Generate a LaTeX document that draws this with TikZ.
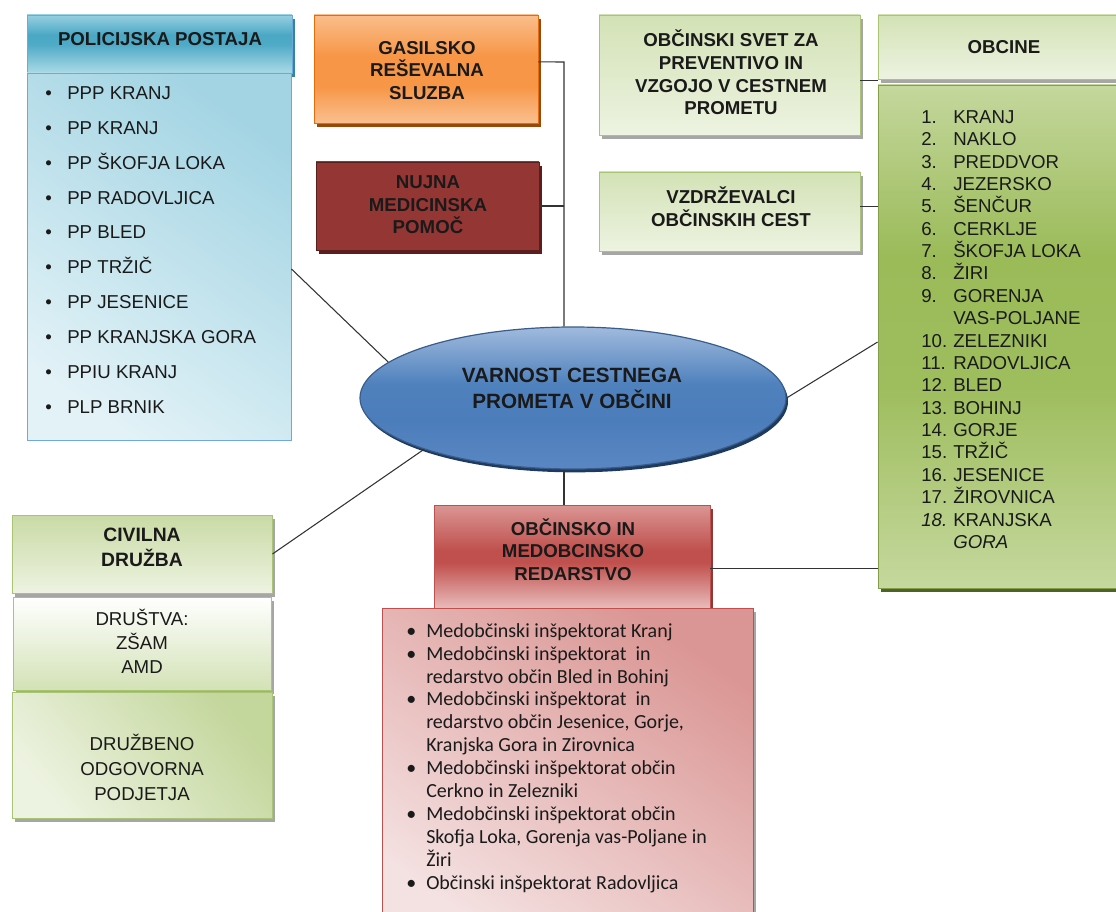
\documentclass[tikz,border=0pt]{standalone}
\usepackage{fontspec}
\setmainfont{Liberation Sans}
\newfontfamily\calfont{Carlito}
\usetikzlibrary{shapes.geometric,shadows,calc}

% palette
\definecolor{txt}{HTML}{1A1A1A}
\definecolor{lnc}{HTML}{333333}
\definecolor{tealB}{HTML}{6FA8DC}
\definecolor{tealS}{HTML}{31859C}
\definecolor{iceL}{HTML}{E2F2F7}
\definecolor{iceD}{HTML}{A3D4E3}
\definecolor{orgB}{HTML}{E46C0A}
\definecolor{orgS}{HTML}{984807}
\definecolor{wineD}{HTML}{943634}
\definecolor{wineM}{HTML}{B84A47}
\definecolor{wineS}{HTML}{5A1E1D}
\definecolor{sageT}{HTML}{D3E2B6}
\definecolor{sageB}{HTML}{EDF3E1}
\definecolor{sageE}{HTML}{A9C474}
\definecolor{greyS}{HTML}{A6A6A6}
\definecolor{oliveM}{HTML}{9BBB59}
\definecolor{oliveL}{HTML}{C3D69B}
\definecolor{oliveS}{HTML}{4F6228}
\definecolor{bluE}{HTML}{385D8A}
\definecolor{bluS}{HTML}{1F3A5F}
\definecolor{roseM}{HTML}{C0504D}
\definecolor{roseS}{HTML}{8B3A38}
\definecolor{pinkL}{HTML}{F4E1E1}
\definecolor{pinkD}{HTML}{DA9694}

% vertical shadings: 25bp = bottom edge, 75bp = top edge
\pgfdeclareverticalshading{tealshade}{100bp}{%
  color(0bp)=(rgb,255:red,170;green,218;blue,231);
  color(25bp)=(rgb,255:red,170;green,218;blue,231);
  color(50bp)=(rgb,255:red,78;green,170;blue,198);
  color(58bp)=(rgb,255:red,75;green,168;blue,197);
  color(75bp)=(rgb,255:red,150;green,208;blue,224);
  color(100bp)=(rgb,255:red,150;green,208;blue,224)}
\pgfdeclareverticalshading{orgshade}{100bp}{%
  color(0bp)=(rgb,255:red,250;green,192;blue,144);
  color(25bp)=(rgb,255:red,250;green,192;blue,144);
  color(42bp)=(rgb,255:red,247;green,150;blue,70);
  color(56bp)=(rgb,255:red,247;green,150;blue,70);
  color(75bp)=(rgb,255:red,250;green,190;blue,140);
  color(100bp)=(rgb,255:red,250;green,190;blue,140)}
\pgfdeclareverticalshading{roseshade}{100bp}{%
  color(0bp)=(rgb,255:red,232;green,188;blue,187);
  color(25bp)=(rgb,255:red,232;green,188;blue,187);
  color(47bp)=(rgb,255:red,192;green,80;blue,77);
  color(53bp)=(rgb,255:red,192;green,80;blue,77);
  color(75bp)=(rgb,255:red,218;green,150;blue,148);
  color(100bp)=(rgb,255:red,218;green,150;blue,148)}
\pgfdeclareverticalshading{oliveshade}{100bp}{%
  color(0bp)=(rgb,255:red,197;green,216;blue,158);
  color(25bp)=(rgb,255:red,197;green,216;blue,158);
  color(45bp)=(rgb,255:red,158;green,189;blue,93);
  color(58bp)=(rgb,255:red,155;green,187;blue,89);
  color(75bp)=(rgb,255:red,196;green,215;blue,157);
  color(100bp)=(rgb,255:red,196;green,215;blue,157)}
\pgfdeclareverticalshading{blushade}{100bp}{%
  color(0bp)=(rgb,255:red,90;green,135;blue,195);
  color(25bp)=(rgb,255:red,90;green,135;blue,195);
  color(42bp)=(rgb,255:red,76;green,125;blue,187);
  color(55bp)=(rgb,255:red,79;green,129;blue,189);
  color(75bp)=(rgb,255:red,160;green,186;blue,221);
  color(100bp)=(rgb,255:red,160;green,186;blue,221)}

\newcommand\hdfont{\fontsize{14}{17}\selectfont\bfseries}
\newcommand\rgfont{\fontsize{14}{18}\selectfont}

\begin{document}
\begin{tikzpicture}[x=0.75pt,y=-0.75pt,
  bx/.style={draw, rectangle, inner sep=0pt, line width=0.7pt},
  sz/.style 2 args={minimum width={#1*0.75pt}, minimum height={#2*0.75pt}},
  dsh/.style={drop shadow={shadow xshift=2pt, shadow yshift=-3pt, opacity=1, fill=#1}},
  hd/.style={font=\hdfont, align=center, text=txt, inner sep=0pt},
  rg/.style={font=\rgfont, align=center, text=txt, inner sep=0pt},
  lst/.style={align=left, text=txt, inner sep=0pt, anchor=west},
  conn/.style={draw=lnc, line width=0.8pt}]
\useasboundingbox (0,0) rectangle (1116,912);

% ---------- boxes ----------
\node[bx, sz={265}{58}, draw=tealB, dsh=tealS, shade, shading=tealshade] (pph) at (159.5,44) {};
\node[bx, sz={264}{367}, draw=tealB,
      top color=iceD, bottom color=iceL, shading angle=-35] (ppl) at (159,256.5) {};

\node[bx, sz={224}{108}, draw=orgB, dsh=orgS, shade, shading=orgshade] (gas) at (426,69) {};
\node[bx, sz={223}{88}, draw=wineS, dsh=wineS,
      left color=wineD, middle color=wineM, right color=wineD] (nuj) at (427.5,206) {};

\node[bx, sz={261}{120}, draw=sageE, dsh=greyS,
      top color=sageT, bottom color=sageB] (svet) at (729.5,75) {};
\node[bx, sz={261}{79}, draw=sageE, dsh=greyS,
      top color=sageT, bottom color=sageB] (vzd) at (729.5,211.5) {};

\node[bx, sz={252}{64}, draw=sageE, dsh=greyS,
      top color=sageT, bottom color=sageB] (obh) at (1004,47) {};
\node[bx, sz={252}{503}, draw=oliveM!85!black, dsh=oliveS, shade, shading=oliveshade] (obl) at (1004,336.5) {};

\node[ellipse, draw=bluE, line width=0.9pt, inner sep=0pt, sz={426}{142},
      drop shadow={shadow xshift=1.5pt, shadow yshift=-2.5pt, opacity=1, fill=bluS},
      shade, shading=blushade] (ell) at (573,398) {};

\node[bx, sz={260}{78}, draw=sageE, dsh=greyS,
      top color=oliveL!90!white, bottom color=sageB] (civ) at (142,554) {};
\node[bx, sz={258}{93}, draw=sageE, dsh=greyS,
      top color=white, bottom color=sageT] (dru) at (142,643.5) {};
\node[bx, sz={260}{126}, draw=sageE, dsh=greyS,
      top color=oliveL, bottom color=sageB, shading angle=-50] (dzb) at (142,755) {};

\node[bx, sz={276}{103}, draw=roseM, dsh=roseS, shade, shading=roseshade] (redh) at (572,556.5) {};
\node[bx, sz={371}{332}, draw=roseM, dsh=greyS,
      top color=pinkD, bottom color=pinkL, shading angle=-35] (redl) at (567.5,774) {};

% ---------- connectors ----------
\coordinate (trunk) at (564,62);
\draw[conn] ($(gas.north east)!0.435!(gas.south east)$) -- (trunk) -- (trunk |- ell.north);
\draw[conn] (nuj.east) -- (nuj.east -| trunk);
\draw[conn] (ell.south -| trunk) -- (redh.north -| trunk);
\draw[conn] ($(ppl.north east)!0.534!(ppl.south east)$) -- (ell.169.6);
\draw[conn] (civ.east) -- (ell.199.7);
\draw[conn] (ell.east) -- ($(obl.north west)!0.511!(obl.south west)$);
\draw[conn] ($(svet.north east)!0.542!(svet.south east)$) coordinate (sv) -- (sv -| obh.west);
\draw[conn] ($(vzd.north east)!0.443!(vzd.south east)$) coordinate (vz) -- (vz -| obl.west);
\draw[conn] ($(redh.north east)!0.612!(redh.south east)$) coordinate (rd) -- (rd -| obl.west);

% ---------- headings ----------
\node[hd] (pphT) at (160,39) {POLICIJSKA POSTAJA};
\node[hd] (gasT) at (427,70.5) {GASILSKO\\REŠEVALNA\\SLUZBA};
\node[hd] (nujT) at (428,205) {NUJNA\\MEDICINSKA\\POMOČ};
\node[hd] (svetT) at (731,72.5) {OBČINSKI SVET ZA\\PREVENTIVO IN\\VZGOJO V CESTNEM\\PROMETU};
\node[hd] (vzdT) at (731,206.5) {VZDRŽEVALCI\\OBČINSKIH CEST};
\node[hd] (obhT) at (1004,47) {OBCINE};
\node[hd, font={\fontsize{15.5}{19.5}\selectfont\bfseries}] (ellT) at (572,388.5)
      {VARNOST CESTNEGA\\PROMETA V OBČINI};
\node[hd, font={\fontsize{14.5}{18.75}\selectfont\bfseries}] (civT) at (142,547.5) {CIVILNA\\DRUŽBA};
\node[rg] (druT) at (142,641) {DRUŠTVA:\\ZŠAM\\AMD};
\node[rg, font={\fontsize{14}{18.75}\selectfont}] (dzbT) at (142,767) {DRUŽBENO\\ODGOVORNA\\PODJETJA};
\node[hd] (redT) at (573,549.5) {OBČINSKO IN\\MEDOBCINSKO\\REDARSTVO};

% ---------- lists ----------
\node[lst, font={\fontsize{14}{26.2}\selectfont}] (pplT) at (45,250) {%
\makebox[16.5pt][l]{•}PPP KRANJ\\
\makebox[16.5pt][l]{•}PP KRANJ\\
\makebox[16.5pt][l]{•}PP ŠKOFJA LOKA\\
\makebox[16.5pt][l]{•}PP RADOVLJICA\\
\makebox[16.5pt][l]{•}PP BLED\\
\makebox[16.5pt][l]{•}PP TRŽIČ\\
\makebox[16.5pt][l]{•}PP JESENICE\\
\makebox[16.5pt][l]{•}PP KRANJSKA GORA\\
\makebox[16.5pt][l]{•}PPIU KRANJ\\
\makebox[16.5pt][l]{•}PLP BRNIK};

\node[lst, font={\fontsize{14}{16.78}\selectfont}] (oblT) at (921,329.5) {%
\makebox[24pt][l]{1.}KRANJ\\
\makebox[24pt][l]{2.}NAKLO\\
\makebox[24pt][l]{3.}PREDDVOR\\
\makebox[24pt][l]{4.}JEZERSKO\\
\makebox[24pt][l]{5.}ŠENČUR\\
\makebox[24pt][l]{6.}CERKLJE\\
\makebox[24pt][l]{7.}ŠKOFJA LOKA\\
\makebox[24pt][l]{8.}ŽIRI\\
\makebox[24pt][l]{9.}GORENJA\\
\makebox[24pt][l]{}VAS-POLJANE\\
\makebox[24pt][l]{10.}ZELEZNIKI\\
\makebox[24pt][l]{11.}RADOVLJICA\\
\makebox[24pt][l]{12.}BLED\\
\makebox[24pt][l]{13.}BOHINJ\\
\makebox[24pt][l]{14.}GORJE\\
\makebox[24pt][l]{15.}TRŽIČ\\
\makebox[24pt][l]{16.}JESENICE\\
\makebox[24pt][l]{17.}ŽIROVNICA\\
\makebox[24pt][l]{\textit{18.}}KRANJSKA\\
\makebox[24pt][l]{}\textit{GORA}};

\node[lst, font={\calfont\fontsize{15}{17.18}\selectfont}] (redT2) at (406,758) {%
\makebox[15pt][l]{•}Medobčinski inšpektorat Kranj\\
\makebox[15pt][l]{•}Medobčinski inšpektorat\ \ in\\
\makebox[15pt][l]{}redarstvo občin Bled in Bohinj\\
\makebox[15pt][l]{•}Medobčinski inšpektorat\ \ in\\
\makebox[15pt][l]{}redarstvo občin Jesenice, Gorje,\\
\makebox[15pt][l]{}Kranjska Gora in Zirovnica\\
\makebox[15pt][l]{•}Medobčinski inšpektorat občin\\
\makebox[15pt][l]{}Cerkno in Zelezniki\\
\makebox[15pt][l]{•}Medobčinski inšpektorat občin\\
\makebox[15pt][l]{}Skofja Loka, Gorenja vas-Poljane in\\
\makebox[15pt][l]{}Žiri\\
\makebox[15pt][l]{•}Občinski inšpektorat Radovljica};
\end{tikzpicture}
\end{document}
